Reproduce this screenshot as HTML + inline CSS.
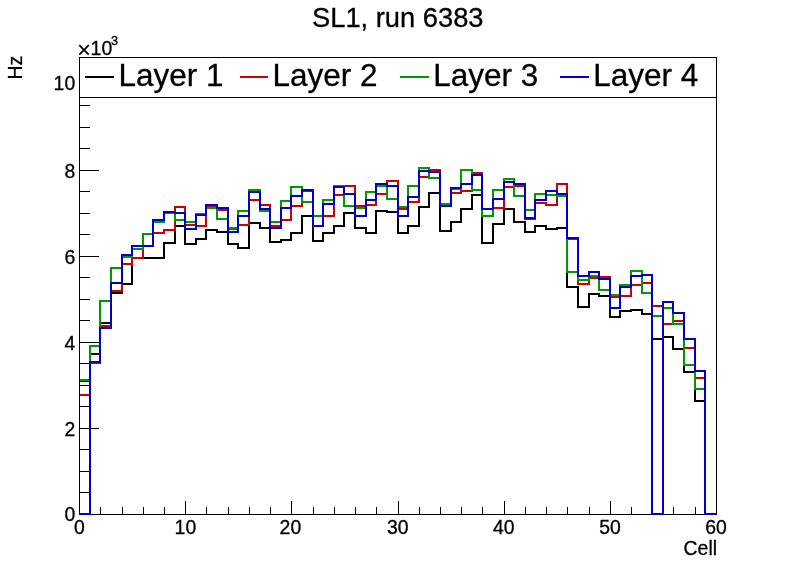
<!DOCTYPE html>
<html><head><meta charset="utf-8"><title>SL1, run 6383</title>
<style>html,body{margin:0;padding:0;background:#fff}svg{display:block}text{font-family:"Liberation Sans",sans-serif;fill:#000;stroke:#000;stroke-width:0.3px}</style></head><body>
<svg width="796" height="572" viewBox="0 0 796 572">
<rect width="796" height="572" fill="#fff"/>
<g shape-rendering="crispEdges" stroke="#000" stroke-width="1" fill="none">
<rect x="79.5" y="57.5" width="637" height="457"/>
<line x1="79.5" y1="514.5" x2="79.5" y2="500.8"/>
<line x1="100.5" y1="514.5" x2="100.5" y2="506.6"/>
<line x1="122.5" y1="514.5" x2="122.5" y2="506.6"/>
<line x1="143.5" y1="514.5" x2="143.5" y2="506.6"/>
<line x1="164.5" y1="514.5" x2="164.5" y2="506.6"/>
<line x1="185.5" y1="514.5" x2="185.5" y2="500.8"/>
<line x1="206.5" y1="514.5" x2="206.5" y2="506.6"/>
<line x1="228.5" y1="514.5" x2="228.5" y2="506.6"/>
<line x1="249.5" y1="514.5" x2="249.5" y2="506.6"/>
<line x1="270.5" y1="514.5" x2="270.5" y2="506.6"/>
<line x1="291.5" y1="514.5" x2="291.5" y2="500.8"/>
<line x1="313.5" y1="514.5" x2="313.5" y2="506.6"/>
<line x1="334.5" y1="514.5" x2="334.5" y2="506.6"/>
<line x1="355.5" y1="514.5" x2="355.5" y2="506.6"/>
<line x1="376.5" y1="514.5" x2="376.5" y2="506.6"/>
<line x1="398.5" y1="514.5" x2="398.5" y2="500.8"/>
<line x1="419.5" y1="514.5" x2="419.5" y2="506.6"/>
<line x1="440.5" y1="514.5" x2="440.5" y2="506.6"/>
<line x1="461.5" y1="514.5" x2="461.5" y2="506.6"/>
<line x1="482.5" y1="514.5" x2="482.5" y2="506.6"/>
<line x1="504.5" y1="514.5" x2="504.5" y2="500.8"/>
<line x1="525.5" y1="514.5" x2="525.5" y2="506.6"/>
<line x1="546.5" y1="514.5" x2="546.5" y2="506.6"/>
<line x1="567.5" y1="514.5" x2="567.5" y2="506.6"/>
<line x1="589.5" y1="514.5" x2="589.5" y2="506.6"/>
<line x1="610.5" y1="514.5" x2="610.5" y2="500.8"/>
<line x1="631.5" y1="514.5" x2="631.5" y2="506.6"/>
<line x1="652.5" y1="514.5" x2="652.5" y2="506.6"/>
<line x1="673.5" y1="514.5" x2="673.5" y2="506.6"/>
<line x1="695.5" y1="514.5" x2="695.5" y2="506.6"/>
<line x1="716.5" y1="514.5" x2="716.5" y2="500.8"/>
<line x1="79.5" y1="492.5" x2="90.1" y2="492.5"/>
<line x1="79.5" y1="471.5" x2="90.1" y2="471.5"/>
<line x1="79.5" y1="449.5" x2="90.1" y2="449.5"/>
<line x1="79.5" y1="428.5" x2="98.9" y2="428.5"/>
<line x1="79.5" y1="406.5" x2="90.1" y2="406.5"/>
<line x1="79.5" y1="385.5" x2="90.1" y2="385.5"/>
<line x1="79.5" y1="363.5" x2="90.1" y2="363.5"/>
<line x1="79.5" y1="342.5" x2="98.9" y2="342.5"/>
<line x1="79.5" y1="320.5" x2="90.1" y2="320.5"/>
<line x1="79.5" y1="299.5" x2="90.1" y2="299.5"/>
<line x1="79.5" y1="277.5" x2="90.1" y2="277.5"/>
<line x1="79.5" y1="256.5" x2="98.9" y2="256.5"/>
<line x1="79.5" y1="234.5" x2="90.1" y2="234.5"/>
<line x1="79.5" y1="213.5" x2="90.1" y2="213.5"/>
<line x1="79.5" y1="191.5" x2="90.1" y2="191.5"/>
<line x1="79.5" y1="170.5" x2="98.9" y2="170.5"/>
<line x1="79.5" y1="148.5" x2="90.1" y2="148.5"/>
<line x1="79.5" y1="127.5" x2="90.1" y2="127.5"/>
<line x1="79.5" y1="105.5" x2="90.1" y2="105.5"/>
<line x1="79.5" y1="84.5" x2="98.9" y2="84.5"/>
<line x1="79.5" y1="62.5" x2="90.1" y2="62.5"/>
</g>
<g shape-rendering="crispEdges" fill="none" stroke-width="2" stroke-linejoin="miter">
<path d="M79.0 381.0 L90.0 381.0 L90.0 354.0 L100.0 354.0 L100.0 323.0 L111.0 323.0 L111.0 293.0 L122.0 293.0 L122.0 284.0 L132.0 284.0 L132.0 258.0 L143.0 258.0 L143.0 258.0 L153.0 258.0 L153.0 258.0 L164.0 258.0 L164.0 243.0 L175.0 243.0 L175.0 226.0 L185.0 226.0 L185.0 244.0 L196.0 244.0 L196.0 239.0 L206.0 239.0 L206.0 230.0 L217.0 230.0 L217.0 232.0 L228.0 232.0 L228.0 244.0 L238.0 244.0 L238.0 248.0 L249.0 248.0 L249.0 223.0 L260.0 223.0 L260.0 228.0 L270.0 228.0 L270.0 242.0 L281.0 242.0 L281.0 240.0 L291.0 240.0 L291.0 233.0 L302.0 233.0 L302.0 216.0 L313.0 216.0 L313.0 241.0 L323.0 241.0 L323.0 233.0 L334.0 233.0 L334.0 226.0 L344.0 226.0 L344.0 213.0 L355.0 213.0 L355.0 228.0 L366.0 228.0 L366.0 233.0 L376.0 233.0 L376.0 211.0 L387.0 211.0 L387.0 212.0 L398.0 212.0 L398.0 233.0 L408.0 233.0 L408.0 226.0 L419.0 226.0 L419.0 207.0 L429.0 207.0 L429.0 193.0 L440.0 193.0 L440.0 231.0 L451.0 231.0 L451.0 222.0 L461.0 222.0 L461.0 209.0 L472.0 209.0 L472.0 195.0 L482.0 195.0 L482.0 243.0 L493.0 243.0 L493.0 224.0 L504.0 224.0 L504.0 209.0 L514.0 209.0 L514.0 222.0 L525.0 222.0 L525.0 232.0 L535.0 232.0 L535.0 226.0 L546.0 226.0 L546.0 229.0 L557.0 229.0 L557.0 228.0 L567.0 228.0 L567.0 287.0 L578.0 287.0 L578.0 307.0 L589.0 307.0 L589.0 294.0 L599.0 294.0 L599.0 296.0 L610.0 296.0 L610.0 317.0 L620.0 317.0 L620.0 311.0 L631.0 311.0 L631.0 310.0 L642.0 310.0 L642.0 314.0 L652.0 314.0 L652.0 339.0 L663.0 339.0 L663.0 337.0 L673.0 337.0 L673.0 349.0 L684.0 349.0 L684.0 372.0 L695.0 372.0 L695.0 401.0 L705.0 401.0 L705.0 514.0 L716.0 514.0" stroke="#000000"/>
<path d="M79.0 395.0 L90.0 395.0 L90.0 363.0 L100.0 363.0 L100.0 326.0 L111.0 326.0 L111.0 291.0 L122.0 291.0 L122.0 264.0 L132.0 264.0 L132.0 258.0 L143.0 258.0 L143.0 246.0 L153.0 246.0 L153.0 233.0 L164.0 233.0 L164.0 230.0 L175.0 230.0 L175.0 207.0 L185.0 207.0 L185.0 225.0 L196.0 225.0 L196.0 226.0 L206.0 226.0 L206.0 206.0 L217.0 206.0 L217.0 210.0 L228.0 210.0 L228.0 229.0 L238.0 229.0 L238.0 225.0 L249.0 225.0 L249.0 200.0 L260.0 200.0 L260.0 205.0 L270.0 205.0 L270.0 226.0 L281.0 226.0 L281.0 220.0 L291.0 220.0 L291.0 206.0 L302.0 206.0 L302.0 191.0 L313.0 191.0 L313.0 216.0 L323.0 216.0 L323.0 216.0 L334.0 216.0 L334.0 195.0 L344.0 195.0 L344.0 186.0 L355.0 186.0 L355.0 206.0 L366.0 206.0 L366.0 205.0 L376.0 205.0 L376.0 194.0 L387.0 194.0 L387.0 181.0 L398.0 181.0 L398.0 209.0 L408.0 209.0 L408.0 202.0 L419.0 202.0 L419.0 177.0 L429.0 177.0 L429.0 170.0 L440.0 170.0 L440.0 206.0 L451.0 206.0 L451.0 193.0 L461.0 193.0 L461.0 191.0 L472.0 191.0 L472.0 173.0 L482.0 173.0 L482.0 209.0 L493.0 209.0 L493.0 208.0 L504.0 208.0 L504.0 187.0 L514.0 187.0 L514.0 186.0 L525.0 186.0 L525.0 219.0 L535.0 219.0 L535.0 203.0 L546.0 203.0 L546.0 205.0 L557.0 205.0 L557.0 184.0 L567.0 184.0 L567.0 239.0 L578.0 239.0 L578.0 284.0 L589.0 284.0 L589.0 278.0 L599.0 278.0 L599.0 277.0 L610.0 277.0 L610.0 297.0 L620.0 297.0 L620.0 296.0 L631.0 296.0 L631.0 285.0 L642.0 285.0 L642.0 283.0 L652.0 283.0 L652.0 306.0 L663.0 306.0 L663.0 324.0 L673.0 324.0 L673.0 321.0 L684.0 321.0 L684.0 348.0 L695.0 348.0 L695.0 378.0 L705.0 378.0 L705.0 514.0 L716.0 514.0" stroke="#cc0000"/>
<path d="M79.0 380.0 L90.0 380.0 L90.0 346.0 L100.0 346.0 L100.0 301.0 L111.0 301.0 L111.0 268.0 L122.0 268.0 L122.0 257.0 L132.0 257.0 L132.0 249.0 L143.0 249.0 L143.0 234.0 L153.0 234.0 L153.0 222.0 L164.0 222.0 L164.0 213.0 L175.0 213.0 L175.0 220.0 L185.0 220.0 L185.0 222.0 L196.0 222.0 L196.0 214.0 L206.0 214.0 L206.0 208.0 L217.0 208.0 L217.0 219.0 L228.0 219.0 L228.0 228.0 L238.0 228.0 L238.0 211.0 L249.0 211.0 L249.0 190.0 L260.0 190.0 L260.0 211.0 L270.0 211.0 L270.0 222.0 L281.0 222.0 L281.0 201.0 L291.0 201.0 L291.0 187.0 L302.0 187.0 L302.0 202.0 L313.0 202.0 L313.0 216.0 L323.0 216.0 L323.0 200.0 L334.0 200.0 L334.0 186.0 L344.0 186.0 L344.0 206.0 L355.0 206.0 L355.0 208.0 L366.0 208.0 L366.0 192.0 L376.0 192.0 L376.0 186.0 L387.0 186.0 L387.0 199.0 L398.0 199.0 L398.0 207.0 L408.0 207.0 L408.0 186.0 L419.0 186.0 L419.0 168.0 L429.0 168.0 L429.0 178.0 L440.0 178.0 L440.0 204.0 L451.0 204.0 L451.0 189.0 L461.0 189.0 L461.0 170.0 L472.0 170.0 L472.0 190.0 L482.0 190.0 L482.0 216.0 L493.0 216.0 L493.0 190.0 L504.0 190.0 L504.0 179.0 L514.0 179.0 L514.0 196.0 L525.0 196.0 L525.0 210.0 L535.0 210.0 L535.0 194.0 L546.0 194.0 L546.0 195.0 L557.0 195.0 L557.0 196.0 L567.0 196.0 L567.0 272.0 L578.0 272.0 L578.0 280.0 L589.0 280.0 L589.0 276.0 L599.0 276.0 L599.0 290.0 L610.0 290.0 L610.0 295.0 L620.0 295.0 L620.0 285.0 L631.0 285.0 L631.0 271.0 L642.0 271.0 L642.0 293.0 L652.0 293.0 L652.0 316.0 L663.0 316.0 L663.0 308.0 L673.0 308.0 L673.0 324.0 L684.0 324.0 L684.0 365.0 L695.0 365.0 L695.0 389.0 L705.0 389.0 L705.0 514.0 L716.0 514.0" stroke="#009900"/>
<path d="M79.0 514.0 L90.0 514.0 L90.0 362.0 L100.0 362.0 L100.0 328.0 L111.0 328.0 L111.0 283.0 L122.0 283.0 L122.0 255.0 L132.0 255.0 L132.0 246.0 L143.0 246.0 L143.0 246.0 L153.0 246.0 L153.0 220.0 L164.0 220.0 L164.0 212.0 L175.0 212.0 L175.0 213.0 L185.0 213.0 L185.0 229.0 L196.0 229.0 L196.0 215.0 L206.0 215.0 L206.0 205.0 L217.0 205.0 L217.0 208.0 L228.0 208.0 L228.0 232.0 L238.0 232.0 L238.0 216.0 L249.0 216.0 L249.0 192.0 L260.0 192.0 L260.0 209.0 L270.0 209.0 L270.0 228.0 L281.0 228.0 L281.0 208.0 L291.0 208.0 L291.0 196.0 L302.0 196.0 L302.0 190.0 L313.0 190.0 L313.0 226.0 L323.0 226.0 L323.0 204.0 L334.0 204.0 L334.0 187.0 L344.0 187.0 L344.0 194.0 L355.0 194.0 L355.0 216.0 L366.0 216.0 L366.0 200.0 L376.0 200.0 L376.0 184.0 L387.0 184.0 L387.0 186.0 L398.0 186.0 L398.0 216.0 L408.0 216.0 L408.0 197.0 L419.0 197.0 L419.0 171.0 L429.0 171.0 L429.0 172.0 L440.0 172.0 L440.0 206.0 L451.0 206.0 L451.0 188.0 L461.0 188.0 L461.0 184.0 L472.0 184.0 L472.0 175.0 L482.0 175.0 L482.0 209.0 L493.0 209.0 L493.0 199.0 L504.0 199.0 L504.0 182.0 L514.0 182.0 L514.0 184.0 L525.0 184.0 L525.0 218.0 L535.0 218.0 L535.0 200.0 L546.0 200.0 L546.0 191.0 L557.0 191.0 L557.0 194.0 L567.0 194.0 L567.0 238.0 L578.0 238.0 L578.0 276.0 L589.0 276.0 L589.0 272.0 L599.0 272.0 L599.0 279.0 L610.0 279.0 L610.0 308.0 L620.0 308.0 L620.0 287.0 L631.0 287.0 L631.0 276.0 L642.0 276.0 L642.0 275.0 L652.0 275.0 L652.0 514.0 L663.0 514.0 L663.0 302.0 L673.0 302.0 L673.0 313.0 L684.0 313.0 L684.0 339.0 L695.0 339.0 L695.0 371.0 L705.0 371.0 L705.0 514.0 L716.0 514.0" stroke="#0000cc"/>
</g>
<g shape-rendering="crispEdges" stroke="#000" stroke-width="1"><line x1="716.5" y1="57" x2="716.5" y2="515"/><line x1="79.5" y1="57" x2="79.5" y2="513"/></g>
<rect x="79.5" y="57.5" width="637" height="40" fill="#fff" stroke="#000" stroke-width="1" shape-rendering="crispEdges"/>
<line x1="85.0" y1="77" x2="114.0" y2="77" stroke="#000000" stroke-width="2" shape-rendering="crispEdges"/>
<text x="118.5" y="85.6" font-size="31.5">Layer 1</text>
<line x1="240.0" y1="77" x2="268.0" y2="77" stroke="#cc0000" stroke-width="2" shape-rendering="crispEdges"/>
<text x="272.5" y="85.6" font-size="31.5">Layer 2</text>
<line x1="400.0" y1="77" x2="429.0" y2="77" stroke="#009900" stroke-width="2" shape-rendering="crispEdges"/>
<text x="433.3" y="85.6" font-size="31.5">Layer 3</text>
<line x1="560.0" y1="77" x2="589.0" y2="77" stroke="#0000cc" stroke-width="2" shape-rendering="crispEdges"/>
<text x="593.3" y="85.6" font-size="31.5">Layer 4</text>
<text x="397.75" y="27.4" font-size="27.3" text-anchor="middle">SL1, run 6383</text>
<text x="79.3" y="533.5" font-size="19.4" text-anchor="middle">0</text>
<text x="185.4" y="533.5" font-size="19.4" text-anchor="middle">10</text>
<text x="290.4" y="533.5" font-size="19.4" text-anchor="middle">20</text>
<text x="397.7" y="533.5" font-size="19.4" text-anchor="middle">30</text>
<text x="503.8" y="533.5" font-size="19.4" text-anchor="middle">40</text>
<text x="610.0" y="533.5" font-size="19.4" text-anchor="middle">50</text>
<text x="716.1" y="533.5" font-size="19.4" text-anchor="middle">60</text>
<text x="75.2" y="521.2" font-size="19.4" text-anchor="end">0</text>
<text x="75.2" y="435.6" font-size="19.4" text-anchor="end">2</text>
<text x="75.2" y="349.6" font-size="19.4" text-anchor="end">4</text>
<text x="75.2" y="263.6" font-size="19.4" text-anchor="end">6</text>
<text x="75.2" y="177.6" font-size="19.4" text-anchor="end">8</text>
<text x="75.2" y="90.4" font-size="19.4" text-anchor="end">10</text>
<text x="717" y="554.6" font-size="19.4" text-anchor="end">Cell</text>
<text transform="translate(22.1,79.5) rotate(-90)" font-size="19.4">Hz</text>
<text y="55.1" font-size="19.4"><tspan x="77.1" y="58.4" font-size="24" stroke="none">×</tspan><tspan x="90.6" y="55.1">10</tspan><tspan x="111.1" y="45.3" font-size="12.7">3</tspan></text>
</svg></body></html>
